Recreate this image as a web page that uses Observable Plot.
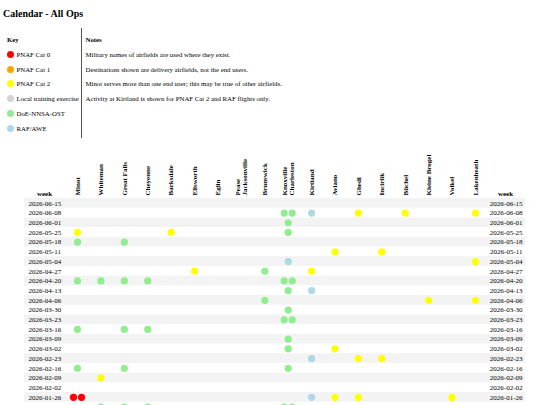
<!DOCTYPE html>
<html>
<head>
<meta charset="utf-8">
<script src="https://cdn.jsdelivr.net/npm/d3@7"></script>
<script src="https://cdn.jsdelivr.net/npm/@observablehq/plot@0.6"></script>
<style>
  html, body { margin: 0; overflow: hidden; }
  body { background: white; font-family: "Liberation Serif", "Times New Roman", serif; color: #000; width: 540px; }
  #hdr { position: relative; width: 540px; height: 140px; }
  #title { position: absolute; left: 3px; top: 8px; font-size: 10px; font-weight: bold; line-height: 12px; }
  #key { position: absolute; left: 7px; top: 33px; width: 74px; font-size: 6.8px; line-height: 14.8px; white-space: nowrap; }
  #notes { position: absolute; left: 81px; top: 28px; height: 110px; border-left: 1px solid #555; padding-left: 3.5px; font-size: 6.8px; line-height: 14.8px; white-space: nowrap; }
  #notes .inner { margin-top: 5px; }
  .sw { display: inline-block; width: 7px; height: 7px; border-radius: 50%; vertical-align: -1px; margin-right: 2.5px; }
  b { font-weight: bold; }
  #chart svg { display: block; }
</style>
</head>
<body>
<div id="hdr">
  <div id="title">Calendar - All Ops</div>
  <div id="key"></div>
  <div id="notes"><div class="inner"></div></div>
</div>
<div id="chart"></div>
<script>
const categories = ["PNAF Cat 0", "PNAF Cat 1", "PNAF Cat 2", "Local training exercise", "DoE-NNSA-OST", "RAF/AWE"];
const categoryColors = ["red", "orange", "yellow", "lightgray", "lightgreen", "lightblue"];
const notes = [
  "Military names of airfields are used where they exist.",
  "Destinations shown are delivery airfields, not the end users.",
  "Minot serves more than one end user; this may be true of other airfields.",
  "Activity at Kirtland is shown for PNAF Cat 2 and RAF flights only."
];
const airfields = ["Minot", "Whiteman", "Great Falls", "Cheyenne", "Barksdale", "Ellsworth", "Eglin",
  "Pease\nJacksonville", "Brunswick", "Knoxville\nCharleston", "Kirtland", "Aviano", "Ghedi", "Incirlik",
  "Büchel", "Kleine Brogel", "Volkel", "Lakenheath"];
const weeks = ["2026-06-15", "2026-06-08", "2026-06-01", "2026-05-25", "2026-05-18", "2026-05-11", "2026-05-04",
  "2026-04-27", "2026-04-20", "2026-04-13", "2026-04-06", "2026-03-30", "2026-03-23", "2026-03-16",
  "2026-03-09", "2026-03-02", "2026-02-23", "2026-02-16", "2026-02-09", "2026-02-02", "2026-01-26", "2026-01-19"];

const KC = "Knoxville\nCharleston";
// [week, airfield, category]
const events = [
  ["2026-06-08", KC, "DoE-NNSA-OST"], ["2026-06-08", KC, "DoE-NNSA-OST"],
  ["2026-06-08", "Kirtland", "RAF/AWE"], ["2026-06-08", "Ghedi", "PNAF Cat 2"],
  ["2026-06-08", "Büchel", "PNAF Cat 2"], ["2026-06-08", "Lakenheath", "PNAF Cat 2"],
  ["2026-06-01", KC, "DoE-NNSA-OST"],
  ["2026-05-25", "Minot", "PNAF Cat 2"], ["2026-05-25", "Barksdale", "PNAF Cat 2"], ["2026-05-25", KC, "DoE-NNSA-OST"],
  ["2026-05-18", "Minot", "DoE-NNSA-OST"], ["2026-05-18", "Great Falls", "DoE-NNSA-OST"],
  ["2026-05-11", "Aviano", "PNAF Cat 2"], ["2026-05-11", "Incirlik", "PNAF Cat 2"],
  ["2026-05-04", KC, "RAF/AWE"], ["2026-05-04", "Lakenheath", "PNAF Cat 2"],
  ["2026-04-27", "Ellsworth", "PNAF Cat 2"], ["2026-04-27", "Brunswick", "DoE-NNSA-OST"], ["2026-04-27", "Kirtland", "PNAF Cat 2"],
  ["2026-04-20", "Minot", "DoE-NNSA-OST"], ["2026-04-20", "Whiteman", "DoE-NNSA-OST"],
  ["2026-04-20", "Great Falls", "DoE-NNSA-OST"], ["2026-04-20", "Cheyenne", "DoE-NNSA-OST"],
  ["2026-04-20", KC, "DoE-NNSA-OST"], ["2026-04-20", KC, "DoE-NNSA-OST"],
  ["2026-04-13", KC, "DoE-NNSA-OST"], ["2026-04-13", "Kirtland", "RAF/AWE"],
  ["2026-04-06", "Brunswick", "DoE-NNSA-OST"], ["2026-04-06", "Kleine Brogel", "PNAF Cat 2"], ["2026-04-06", "Lakenheath", "PNAF Cat 2"],
  ["2026-03-30", KC, "DoE-NNSA-OST"],
  ["2026-03-23", KC, "DoE-NNSA-OST"], ["2026-03-23", KC, "DoE-NNSA-OST"],
  ["2026-03-16", "Minot", "DoE-NNSA-OST"], ["2026-03-16", "Great Falls", "DoE-NNSA-OST"], ["2026-03-16", "Cheyenne", "DoE-NNSA-OST"],
  ["2026-03-09", KC, "DoE-NNSA-OST"],
  ["2026-03-02", KC, "DoE-NNSA-OST"], ["2026-03-02", "Aviano", "PNAF Cat 2"],
  ["2026-02-23", "Kirtland", "RAF/AWE"], ["2026-02-23", "Ghedi", "PNAF Cat 2"], ["2026-02-23", "Incirlik", "PNAF Cat 2"],
  ["2026-02-16", "Minot", "DoE-NNSA-OST"], ["2026-02-16", "Great Falls", "DoE-NNSA-OST"], ["2026-02-16", KC, "DoE-NNSA-OST"],
  ["2026-02-09", "Whiteman", "PNAF Cat 2"],
  ["2026-01-26", "Minot", "PNAF Cat 0"], ["2026-01-26", "Minot", "PNAF Cat 0"],
  ["2026-01-26", "Kirtland", "RAF/AWE"], ["2026-01-26", "Aviano", "PNAF Cat 2"],
  ["2026-01-26", "Ghedi", "PNAF Cat 2"], ["2026-01-26", "Volkel", "PNAF Cat 2"],
  ["2026-01-19", "Whiteman", "DoE-NNSA-OST"], ["2026-01-19", "Great Falls", "DoE-NNSA-OST"],
  ["2026-01-19", "Cheyenne", "DoE-NNSA-OST"], ["2026-01-19", KC, "DoE-NNSA-OST"], ["2026-01-19", KC, "DoE-NNSA-OST"]
];

// header key & notes
const keyDiv = document.getElementById("key");
keyDiv.innerHTML = "<div><b>Key</b></div>" + categories.map((c, i) =>
  `<div><span class="sw" style="background:${categoryColors[i]}"></span>${c}</div>`).join("");
document.querySelector("#notes .inner").innerHTML = "<div><b>Notes</b></div>" + notes.map(n => `<div>${n}</div>`).join("");

// slot within each cell
const cellCount = d3.rollup(events, v => v.length, d => d[0] + "|" + d[1]);
const seen = new Map();
const data = events.map(([week, airfield, category]) => {
  const k = week + "|" + airfield;
  const slot = seen.get(k) || 0;
  seen.set(k, slot + 1);
  return {week, airfield, category, n: cellCount.get(k), slot};
});

const dotOpts = {x: "airfield", y: "week", fill: "category", r: 3.6};
const chart = Plot.plot({
  width: 540,
  height: 277,
  marginTop: 58,
  marginLeft: 24,
  marginRight: 15,
  marginBottom: 5.6,
  style: {fontFamily: "'Liberation Serif', 'Times New Roman', serif", fontSize: "7px", background: "white", color: "black"},
  x: {type: "point", domain: airfields, padding: 0, insetLeft: 53, insetRight: 50, round: false, axis: null},
  y: {type: "band", domain: weeks, padding: 0, round: false, axis: null},
  color: {domain: categories, range: categoryColors},
  marks: [
    Plot.cell(weeks.filter((d, i) => i % 2 === 0), {y: d => d, fill: "#f3f3f3"}),
    Plot.text(weeks, {y: d => d, text: d => d, frameAnchor: "left", textAnchor: "start", dx: 4}),
    Plot.text(weeks, {y: d => d, text: d => d, frameAnchor: "right", textAnchor: "end", dx: -3}),
    Plot.text(airfields, {x: d => d, text: d => d, frameAnchor: "top", rotate: -90, textAnchor: "start",
      lineAnchor: "middle", dy: -3, fontWeight: "bold"}),
    Plot.text(["week"], {frameAnchor: "top-left", dx: 20, dy: -3, textAnchor: "middle", lineAnchor: "bottom", fontWeight: "bold"}),
    Plot.text(["week"], {frameAnchor: "top-right", dx: -20, dy: -3, textAnchor: "middle", lineAnchor: "bottom", fontWeight: "bold"}),
    Plot.dot(data.filter(d => d.n === 1), dotOpts),
    Plot.dot(data.filter(d => d.n === 2 && d.slot === 0), {...dotOpts, dx: -4}),
    Plot.dot(data.filter(d => d.n === 2 && d.slot === 1), {...dotOpts, dx: 4})
  ]
});
document.getElementById("chart").appendChild(chart);
</script>
</body>
</html>
